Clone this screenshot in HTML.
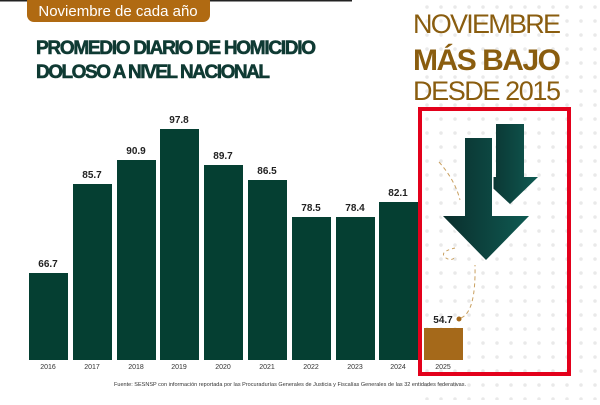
<!DOCTYPE html>
<html><head><meta charset="utf-8"><style>
body{margin:0;width:600px;height:400px;overflow:hidden;background:#fff;font-family:"Liberation Sans",sans-serif}
</style></head><body>
<svg width="600" height="400" xmlns="http://www.w3.org/2000/svg">
<defs>
<linearGradient id="g" x1="0" x2="1"><stop offset="0" stop-color="#0a2e2c"/><stop offset="1" stop-color="#0f5a52"/></linearGradient>
<pattern id="d" width="14" height="14" patternUnits="userSpaceOnUse"><circle cx="7" cy="7" r="1.8" fill="#e4e4e4"/></pattern>
</defs>
<rect x="420" y="0" width="180" height="400" fill="url(#d)" opacity="0.8"/>
<rect x="0" y="0" width="352" height="1.5" fill="#222"/>
<rect x="27" y="-6" width="183" height="28" rx="7" fill="#b06a12"/>
<text x="118" y="16" font-size="15" fill="#fff" text-anchor="middle" font-family="Liberation Sans Narrow, Liberation Sans, sans-serif">Noviembre de cada año</text>
<text x="36" y="54" font-size="19" font-weight="bold" fill="#0f3a33" stroke="#0f3a33" stroke-width="0.6" textLength="280">PROMEDIO DIARIO DE HOMICIDIO</text>
<text x="36" y="78" font-size="19" font-weight="bold" fill="#0f3a33" stroke="#0f3a33" stroke-width="0.6" textLength="234">DOLOSO A NIVEL NACIONAL</text>
<text x="487" y="33" font-size="27" fill="#8a5d0f" text-anchor="middle" textLength="148">NOVIEMBRE</text>
<text x="487" y="70" font-size="30" font-weight="bold" fill="#8a5d0f" text-anchor="middle" textLength="148">MÁS BAJO</text>
<text x="487" y="100" font-size="27" fill="#8a5d0f" text-anchor="middle" textLength="148">DESDE 2015</text>
<g fill="#053f32">
<rect x="29" y="273" width="39" height="87"/>
<rect x="73" y="184" width="39" height="176"/>
<rect x="117" y="160" width="39" height="200"/>
<rect x="160" y="129" width="39" height="231"/>
<rect x="204" y="165" width="39" height="195"/>
<rect x="248" y="180" width="39" height="180"/>
<rect x="292" y="217" width="39" height="143"/>
<rect x="336" y="217" width="39" height="143"/>
<rect x="379" y="202" width="39" height="158"/>
</g>
<rect x="424" y="328" width="39" height="32" fill="#a5691a"/>
<g font-size="10" font-weight="bold" fill="#222" text-anchor="middle">
<text x="48" y="267">66.7</text><text x="92" y="178">85.7</text><text x="136" y="154">90.9</text>
<text x="179" y="123">97.8</text><text x="223" y="159">89.7</text><text x="267" y="174">86.5</text>
<text x="311" y="211">78.5</text><text x="355" y="211">78.4</text><text x="398" y="196">82.1</text>
<text x="443" y="323">54.7</text>
</g>
<g font-size="7" fill="#333" text-anchor="middle">
<text x="48" y="369">2016</text><text x="92" y="369">2017</text><text x="136" y="369">2018</text>
<text x="179" y="369">2019</text><text x="223" y="369">2020</text><text x="267" y="369">2021</text>
<text x="311" y="369">2022</text><text x="355" y="369">2023</text><text x="398" y="369">2024</text><text x="443" y="369">2025</text>
</g>
<text x="114" y="386" font-size="5.5" fill="#333" textLength="352">Fuente: SESNSP con información reportada por las Procuradurías Generales de Justicia y Fiscalías Generales de las 32 entidades federativas.</text>
<circle cx="459" cy="319" r="2.5" fill="#a5691a"/>
<path d="M461 318 Q476 312 475 265" fill="none" stroke="#c9a060" stroke-dasharray="4,3"/>
<path d="M439 162 Q455 180 460 200" fill="none" stroke="#c9a060" stroke-dasharray="4,3"/>
<path d="M455 248 Q438 252 446 258 Q452 262 456 256" fill="none" stroke="#c9a060" stroke-dasharray="3,3"/>
<path d="M496 124 h28 v53 h14 l-28 27 l-29 -27 h15 z" fill="url(#g)"/>
<path d="M465 138 h27 v78 h37 l-43 44 l-43 -44 h22 z" fill="url(#g)" stroke="#fff" stroke-width="3" paint-order="stroke"/>
<rect x="420" y="109" width="149" height="265" fill="none" stroke="#e3001b" stroke-width="4"/>
</svg>
</body></html>
